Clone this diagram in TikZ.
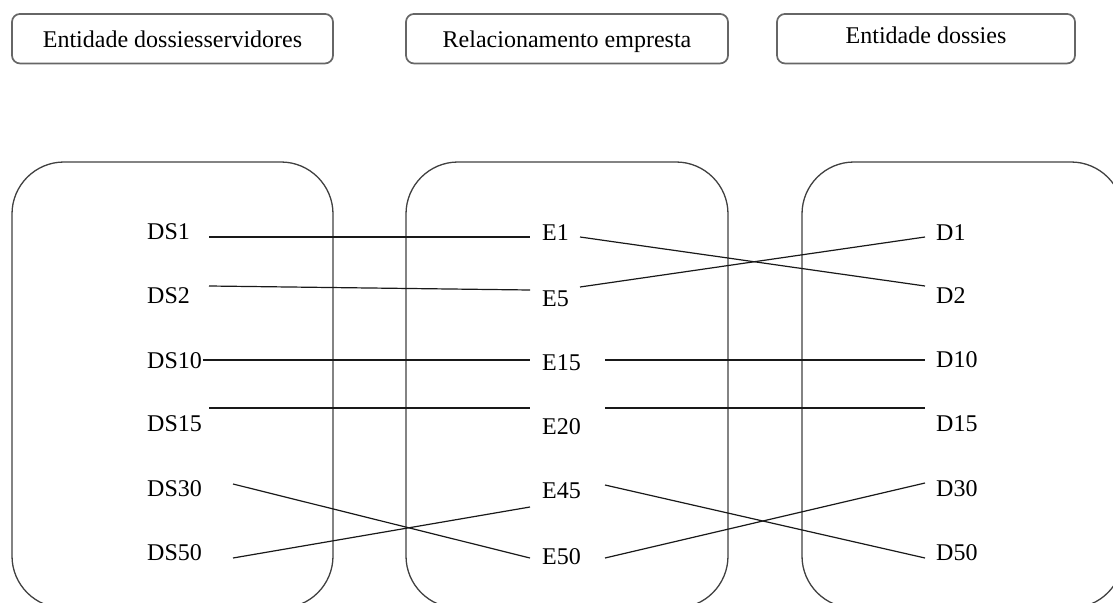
\documentclass[tikz,border=0pt]{standalone}
\usepackage{fontspec}
\setmainfont{Liberation Serif}
\begin{document}
\begin{tikzpicture}[x=1pt,y=-1pt,
  every node/.style={font=\fontsize{24}{28}\selectfont},
  headbox/.style={draw=black!60, line width=1.7pt, rounded corners=8pt,
    minimum width=#1, minimum height=49.5pt, inner sep=0pt},
  setbox/.style={draw=black!75, line width=1.3pt, rounded corners=52pt},
  item/.style={anchor=base west, inner sep=0pt},
  link/.style={draw=black!90, line width=1.2pt}]
\useasboundingbox (0,0) rectangle (1113,602);
\clip (0,0) rectangle (1113,602);

% headings
\node[headbox=321pt, text height=17pt, text depth=0pt] (h1) at (172.5,38.7) {Entidade dossiesservidores};
\node[headbox=322pt, text height=17pt, text depth=0pt] (h2) at (567,38.7) {Relacionamento empresta};
\node[headbox=298pt, text height=13pt, text depth=4pt] (h3) at (926,38.7) {Entidade dossies};

% the three sets
\draw[setbox] (12,162) rectangle (333,608);
\draw[setbox] (406,162) rectangle (728,608);
\draw[setbox] (802,162) rectangle (1123,608);

% left set
\node[item] (DS1)  at (147,239) {DS1};
\node[item] (DS2)  at (147,303) {DS2};
\node[item] (DS10) at (147,368) {DS10};
\node[item] (DS15) at (147,431) {DS15};
\node[item] (DS30) at (147,496) {DS30};
\node[item] (DS50) at (147,560) {DS50};

% middle set
\node[item] (E1)  at (542,240) {E1};
\node[item] (E5)  at (542,306) {E5};
\node[item] (E15) at (542,370) {E15};
\node[item] (E20) at (542,434) {E20};
\node[item] (E45) at (542,498) {E45};
\node[item] (E50) at (542,564) {E50};

% right set
\node[item] (D1)  at (936,240) {D1};
\node[item] (D2)  at (936,303) {D2};
\node[item] (D10) at (936,367) {D10};
\node[item] (D15) at (936,431) {D15};
\node[item] (D30) at (936,496) {D30};
\node[item] (D50) at (936,560) {D50};

% line ends
\coordinate (ds1o)  at (209,237);
\coordinate (ds2o)  at (209,286);
\coordinate (ds10o) at (203,360);
\coordinate (ds15o) at (209,408);
\coordinate (ds30o) at (233,484);
\coordinate (ds50o) at (233,558);

\coordinate (e1i)  at (530,237);
\coordinate (e5i)  at (530,290);
\coordinate (e15i) at (530,360);
\coordinate (e20i) at (530,408);
\coordinate (e45i) at (530,507);
\coordinate (e50i) at (530,558);

\coordinate (e1o)  at (580,237);
\coordinate (e5o)  at (580,287);
\coordinate (e15o) at (605,360);
\coordinate (e20o) at (605,408);
\coordinate (e45o) at (605,485);
\coordinate (e50o) at (605,558);

\coordinate (d1i)  at (925,237);
\coordinate (d2i)  at (925,286);
\coordinate (d10i) at (925,360);
\coordinate (d15i) at (925,408);
\coordinate (d30i) at (925,483);
\coordinate (d50i) at (925,558);

% links between left and middle
\draw[link] (ds1o)  -- (e1i);
\draw[link] (ds2o)  -- (e5i);
\draw[link] (ds10o) -- (e15i);
\draw[link] (ds15o) -- (e20i);
\draw[link] (ds30o) -- (e50i);
\draw[link] (ds50o) -- (e45i);

% links between middle and right
\draw[link] (e1o)  -- (d2i);
\draw[link] (e5o)  -- (d1i);
\draw[link] (e15o) -- (d10i);
\draw[link] (e20o) -- (d15i);
\draw[link] (e45o) -- (d50i);
\draw[link] (e50o) -- (d30i);
\end{tikzpicture}
\end{document}
